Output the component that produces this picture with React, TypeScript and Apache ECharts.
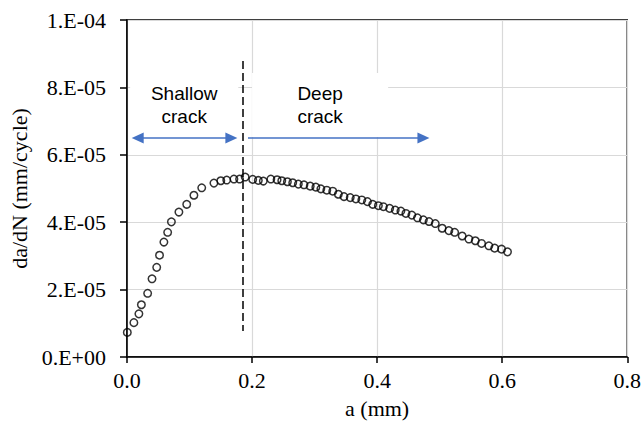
import React, { useEffect, useRef } from "react";
import * as echarts from "echarts";

// crack length a (mm)
const crackLength = [
  0.0005, 0.011, 0.019, 0.023, 0.033, 0.04, 0.0475, 0.052, 0.059, 0.065, 0.071, 0.083, 0.0955, 0.107,
  0.1195, 0.139, 0.15, 0.1595, 0.171, 0.18, 0.189,
  0.201, 0.21, 0.218, 0.23, 0.24, 0.2475, 0.2565, 0.265, 0.274, 0.283, 0.293, 0.302, 0.31, 0.3195,
  0.329, 0.338, 0.347, 0.357, 0.366, 0.3755, 0.3845, 0.393, 0.402, 0.41, 0.42, 0.429, 0.438, 0.446,
  0.4555, 0.4645, 0.474, 0.483, 0.493, 0.504, 0.5147, 0.524, 0.536, 0.5467, 0.557, 0.567, 0.5787,
  0.588, 0.599, 0.6085,
];

// crack growth rate da/dN (mm/cycle)
const growthRate = [
  0.73e-5, 1.02e-5, 1.28e-5, 1.55e-5, 1.89e-5, 2.32e-5, 2.66e-5, 3.02e-5, 3.41e-5, 3.7e-5, 4.01e-5,
  4.3e-5, 4.53e-5, 4.8e-5, 5.02e-5, 5.16e-5, 5.23e-5, 5.25e-5, 5.28e-5, 5.28e-5, 5.34e-5,
  5.27e-5, 5.24e-5, 5.22e-5, 5.28e-5, 5.26e-5, 5.23e-5, 5.2e-5, 5.17e-5, 5.13e-5, 5.11e-5, 5.07e-5,
  5.04e-5, 4.99e-5, 4.95e-5, 4.92e-5, 4.83e-5, 4.76e-5, 4.73e-5, 4.69e-5, 4.66e-5, 4.61e-5, 4.53e-5,
  4.49e-5, 4.46e-5, 4.41e-5, 4.36e-5, 4.33e-5, 4.26e-5, 4.21e-5, 4.13e-5, 4.07e-5, 4.02e-5, 3.96e-5,
  3.82e-5, 3.75e-5, 3.7e-5, 3.59e-5, 3.5e-5, 3.45e-5, 3.37e-5, 3.3e-5, 3.23e-5, 3.2e-5, 3.12e-5,
];

const xTickLabels = ["0.0", "0.2", "0.4", "0.6", "0.8"];
const yTickLabels = ["0.E+00", "2.E-05", "4.E-05", "6.E-05", "8.E-05", "1.E-04"];

// annotations (data units)
const boundaryA = 0.1856;
const boundaryRate = [0.77e-5, 8.78e-5];
const arrowRate = 6.5e-5;
const shallowArrow = [0.0171, 0.1669];
const deepArrow = [0.1935, 0.4741];
const regionNames = ["Shallow\ncrack", "Deep\ncrack"];
const shallowBox = [0.005, 0.178];
const deepBox = [0.2, 0.4176];
const boxRate = [6.53e-5, 8.43e-5];

export default function App() {
  const ref = useRef<HTMLDivElement>(null);

  useEffect(() => {
    if (!ref.current) return;
    const chart = echarts.init(ref.current, undefined, { renderer: "svg" });
    const serif = "'Liberation Serif', 'Times New Roman', serif";
    const sans = "'Liberation Sans', Arial, sans-serif";
    const blue = "#4472C4";

    const boxLabel = (text: string) => ({
      show: true,
      position: "inside" as const,
      formatter: text,
      fontFamily: sans,
      fontSize: 19,
      lineHeight: 23,
      color: "#000",
    });

    chart.setOption({
      animation: false,
      grid: {
        left: 127,
        right: 16,
        top: 20,
        bottom: 73,
        show: true,
        borderColor: "#000",
        borderWidth: 1.5,
        backgroundColor: "transparent",
      },
      xAxis: {
        type: "value",
        min: 0,
        max: 0.8,
        interval: 0.2,
        name: "a (mm)",
        nameLocation: "middle",
        nameGap: 40,
        nameTextStyle: { fontFamily: serif, fontSize: 22, color: "#000" },
        axisLine: { show: true, lineStyle: { color: "#000", width: 1.5 } },
        axisTick: { show: true, inside: false, length: 6, lineStyle: { color: "#000", width: 1.5 } },
        axisLabel: {
          margin: 12,
          fontFamily: serif,
          fontSize: 22,
          color: "#000",
          formatter: (v: number) => xTickLabels[Math.round(v / 0.2)] ?? "",
        },
        splitLine: { show: true, lineStyle: { color: "#d9d9d9", width: 1.2 } },
      },
      yAxis: {
        type: "value",
        min: 0,
        max: 1e-4,
        interval: 2e-5,
        name: "da/dN (mm/cycle)",
        nameLocation: "middle",
        nameGap: 94,
        nameRotate: 90,
        nameTextStyle: { fontFamily: serif, fontSize: 22, color: "#000" },
        axisLine: { show: true, lineStyle: { color: "#000", width: 1.5 } },
        axisTick: { show: true, inside: false, length: 7, lineStyle: { color: "#000", width: 1.5 } },
        axisLabel: {
          margin: 21,
          fontFamily: serif,
          fontSize: 22,
          color: "#000",
          formatter: (v: number) => yTickLabels[Math.round(v / 2e-5)] ?? "",
        },
        splitLine: { show: true, lineStyle: { color: "#d9d9d9", width: 1.2 } },
      },
      series: [
        {
          type: "scatter",
          data: crackLength.map((a, i) => [a, growthRate[i]]),
          symbol: "circle",
          symbolSize: 7.5,
          itemStyle: { color: "rgba(0,0,0,0)", borderColor: "#000", borderWidth: 1.5 },
          emphasis: { disabled: true },
          silent: true,
          z: 3,
          markArea: {
            silent: true,
            itemStyle: { color: "#fff" },
            data: [
              [
                { coord: [shallowBox[0], boxRate[1]], label: boxLabel(regionNames[0]) },
                { coord: [shallowBox[1], boxRate[0]] },
              ],
              [
                { coord: [deepBox[0], boxRate[1]], label: boxLabel(regionNames[1]) },
                { coord: [deepBox[1], boxRate[0]] },
              ],
            ],
          },
          markLine: {
            silent: true,
            animation: false,
            label: { show: false },
            emphasis: { disabled: true },
            data: [
              [
                {
                  coord: [boundaryA, boundaryRate[1]],
                  symbol: "none",
                  lineStyle: { color: "#000", width: 1.5, type: [8, 4] },
                },
                { coord: [boundaryA, boundaryRate[0]], symbol: "none" },
              ],
              [
                {
                  coord: [shallowArrow[0], arrowRate],
                  symbol: "triangle",
                  symbolSize: [11, 12],
                  lineStyle: { color: blue, width: 1.5, type: "solid" },
                },
                { coord: [shallowArrow[1], arrowRate], symbol: "triangle", symbolSize: [11, 12] },
              ],
              [
                {
                  coord: [deepArrow[0], arrowRate],
                  symbol: "none",
                  lineStyle: { color: blue, width: 1.5, type: "solid" },
                },
                { coord: [deepArrow[1], arrowRate], symbol: "triangle", symbolSize: [11, 12] },
              ],
            ],
          },
        },
      ],
    });

    return () => chart.dispose();
  }, []);

  return (
    <div
      ref={ref}
      style={{ position: "absolute", left: 0, top: 0, width: 644, height: 430, background: "#fff" }}
    />
  );
}
